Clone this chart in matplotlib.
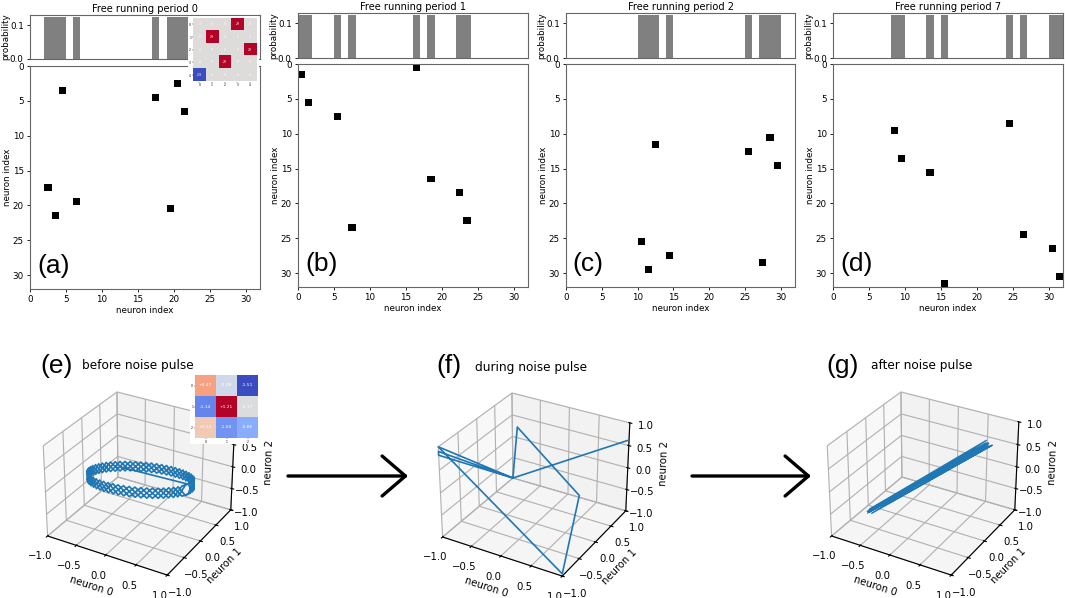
import numpy as np
import matplotlib
matplotlib.use("Agg")
import matplotlib.pyplot as plt
from matplotlib.patches import FancyArrowPatch
from mpl_toolkits.mplot3d import Axes3D  # noqa

W, H = 1065, 598

titles = ["Free running period 0", "Free running period 1", "Free running period 2", "Free running period 7"]
letters = ["(a)", "(b)", "(c)", "(d)"]

cols_a = [2, 3, 4, 6, 17, 19, 20, 21]
rows_a = [17, 21, 3, 19, 4, 20, 2, 6]
cols_b = [0, 1, 5, 7, 16, 18, 22, 23]
rows_b = [1, 5, 7, 23, 0, 16, 18, 22]
cols_c = [10, 11, 12, 14, 25, 27, 28, 29]
rows_c = [25, 29, 11, 27, 12, 28, 10, 14]
cols_d = [8, 9, 13, 15, 24, 26, 30, 31]
rows_d = [9, 13, 15, 31, 8, 24, 26, 30]
prob = 0.125

inset_a = [[0, 0, 0, 29, 0],
           [0, 29, 0, 0, 0],
           [0, 0, 0, 0, 29],
           [0, 0, 29, 0, 0],
           [-29, 0, 0, 0, 0]]
inset_e = [[0.47, -0.28, -1.51],
           [-1.14, 1.21, -0.17],
           [0.13, -1.04, -0.86]]

ring_x = [-.43,
          .78, .763, .713, .631, .522, .39, .241, .082, -.082, -.241, -.39, -.522, -.631, -.713, -.763,
          -.78, -.763, -.713, -.631, -.522, -.39, -.241, -.082, .082, .241, .39, .522, .631, .713, .763,
          .78, .763, .713, .631, .522, .39, .241, .082, -.082, -.241, -.39, -.522, -.631, -.713, -.763,
          -.78, -.763, -.713, -.631, -.522, -.39, -.241, -.082, .082, .241, .39, .522, .631, .713, .763,
          .776, .742, .675, .58, .459, .317, .162, 0, -.162, -.317, -.459, -.58, -.675, -.742, -.776,
          -.776, -.742, -.675, -.58, -.459, -.317, -.162, 0, .162, .317, .459, .58, .675, .742, .776,
          .776, .742, .675, .58, .459, .317, .162, 0, -.162, -.317, -.459, -.58, -.675, -.742, -.776,
          -.776, -.742, -.675, -.58, -.459, -.317, -.162, 0, .162, .317, .459, .58, .675, .742, .776]
ring_y = [.16,
          0, .162, .317, .459, .58, .675, .742, .776, .776, .742, .675, .58, .459, .317, .162,
          0, -.162, -.317, -.459, -.58, -.675, -.742, -.776, -.776, -.742, -.675, -.58, -.459, -.317, -.162,
          0, .162, .317, .459, .58, .675, .742, .776, .776, .742, .675, .58, .459, .317, .162,
          0, -.162, -.317, -.459, -.58, -.675, -.742, -.776, -.776, -.742, -.675, -.58, -.459, -.317, -.162,
          .082, .241, .39, .522, .631, .713, .763, .78, .763, .713, .631, .522, .39, .241, .082,
          -.082, -.241, -.39, -.522, -.631, -.713, -.763, -.78, -.763, -.713, -.631, -.522, -.39, -.241, -.082,
          .082, .241, .39, .522, .631, .713, .763, .78, .763, .713, .631, .522, .39, .241, .082,
          -.082, -.241, -.39, -.522, -.631, -.713, -.763, -.78, -.763, -.713, -.631, -.522, -.39, -.241, -.082]
ring_z = [0,
          .188, -.099, .054, -.231, -.07, -.341, -.163, -.412, -.208, -.431, -.199, -.394, -.137, -.308, -.031,
          -.188, .099, -.054, .231, .07, .341, .163, .412, .208, .431, .199, .394, .137, .308, .031,
          -.032, .121, -.166, -.011, -.29, -.121, -.383, -.192, -.428, -.211, -.419, -.174, -.357, -.088, -.251,
          .032, -.121, .166, .011, .29, .121, .383, .192, .428, .211, .419, .174, .357, .088, .251,
          .155, -.132, .022, -.261, -.096, -.363, -.179, -.422, -.211, -.427, -.188, -.377, -.114, -.28, -.001,
          -.155, .132, -.022, .261, .096, .363, .179, .422, .211, .427, .188, .377, .114, .28, .001,
          -.065, .088, -.198, -.041, -.316, -.143, -.399, -.202, -.431, -.207, -.408, -.157, -.334, -.06, -.221,
          .065, -.088, .198, .041, .316, .143, .399, .202, .431, .207, .408, .157, .334, .06, .221]

pulse_x = [.97, -1, -1, -1, -1, -1, 1, 1, -.91, -1]
pulse_y = [1, 1, -1, -1, 1, -1, -1, -.54, 1, 1]
pulse_z = [.6, -1, .9, .82, -1, 1, -.95, .42, .25, -1]

after_x = [-.6, .68, -.62, .66, -.58, .7, -.6, .64, -.55, .72, -.42, .7, -.6, .68, -.6, .66]
after_y = [-.6, .68, -.6, .64, -.62, .66, -.58, .68, -.6, .72, -.42, .6, -.64, .66, -.6, .7]
after_z = [-.55, .61, -.6, .64, -.5, .57, -.52, .66, -.58, .56, -.46, .62, -.53, .63, -.58, .59]

panel_left = [30, 298, 566, 833]
panel_right = [260, 528, 795, 1063]
top_box = [(15, 59), (13, 58), (13, 58), (13, 58)]
main_box = [(66, 289), (64, 287), (64, 287), (64, 287)]

fig = plt.figure(figsize=(W / 100, H / 100), dpi=100)


def rect(l, t, r, b):
    return [l / W, 1 - b / H, (r - l) / W, (b - t) / H]


fs = 6.3
all_cols = [cols_a, cols_b, cols_c, cols_d]
all_rows = [rows_a, rows_b, rows_c, rows_d]
for i in range(4):
    l = panel_left[i]
    r = panel_right[i]
    t0, b0 = top_box[i]
    t1, b1 = main_box[i]
    at = fig.add_axes(rect(l, t0, r, b0))
    cols = np.array(all_cols[i])
    at.bar(cols + 0.5, [prob] * len(cols), width=1, color="#808080")
    at.set_xlim(0, 32)
    at.set_ylim(0, 0.13)
    at.set_xticks([])
    at.set_yticks([0, 0.1])
    at.set_yticklabels(["0.0", "0.1"])
    at.set_ylabel("probability", fontsize=fs)
    at.yaxis.set_label_coords(-0.087, 0.5)
    at.tick_params(labelsize=fs, length=2.5, width=0.6, pad=2)
    at.set_title(titles[i], fontsize=7.1, pad=2.5)

    am = fig.add_axes(rect(l, t1, r, b1))
    m = np.zeros((32, 32))
    m[all_rows[i], cols] = 1
    am.pcolormesh(np.arange(33), np.arange(33), m, cmap="gray_r", vmin=0, vmax=1)
    am.set_xlim(0, 32)
    am.set_ylim(32, 0)
    am.set_xticks(range(0, 31, 5))
    am.set_yticks(range(0, 31, 5))
    am.set_xlabel("neuron index", fontsize=fs, labelpad=1)
    am.set_ylabel("neuron index", fontsize=fs)
    am.yaxis.set_label_coords(-0.078, 0.5)
    am.tick_params(labelsize=fs, length=2.5, width=0.6, pad=2)
    am.text(0.03, 0.05, letters[i], transform=am.transAxes, fontsize=19,
            family="Liberation Sans", va="bottom", ha="left")
    for a in (at, am):
        for s in a.spines.values():
            s.set_linewidth(0.8)
            s.set_color("#666666")

# inset of panel a
bga = fig.add_axes(rect(188, 16, 258.5, 88))
bga.set_facecolor("white")
bga.set_xticks([])
bga.set_yticks([])
for s in bga.spines.values():
    s.set_visible(False)
ins = fig.add_axes(rect(193, 18, 256.5, 81.5))
ins.imshow(inset_a, cmap="coolwarm", vmin=-29, vmax=29)
for r_, row in enumerate(inset_a):
    for c, v in enumerate(row):
        ins.text(c, r_, str(v), color="white", fontsize=2.2, ha="center", va="center")
ins.set_xticks(range(5))
ins.set_yticks(range(5))
ins.tick_params(labelsize=2.2, length=0.8, width=0.3, pad=0.6)
for s in ins.spines.values():
    s.set_visible(False)

labels3 = [("(e)", "before noise pulse"), ("(f)", "during noise pulse"), ("(g)", "after noise pulse")]
series3 = [(ring_x, ring_y, ring_z), (pulse_x, pulse_y, pulse_z), (after_x, after_y, after_z)]
widths3 = [1.2, 1.2, 1.0]
box3 = [(31.5, 375.5), (426.5, 376.5), (815.5, 375.5)]
size3 = 213
letter_xy = [(40, 373), (436, 373), (826, 373)]
caption_xy = [(82, 366), (475, 367), (871, 366)]
for i in range(3):
    l, t = box3[i]
    ax = fig.add_axes(rect(l, t, l + size3, t + size3), projection="3d")
    ax.patch.set_alpha(0)
    x, y, z = series3[i]
    ax.plot(x, y, z, lw=widths3[i], color="#1f77b4")
    ax.set_xlim(-1, 1)
    ax.set_ylim(-1, 1)
    ax.set_zlim(-1, 1)
    for setter in (ax.set_xticks, ax.set_yticks, ax.set_zticks):
        setter([-1, -.5, 0, .5, 1])
    ax.tick_params(labelsize=7.3, pad=0)
    ax.tick_params(axis="z", pad=-1)
    ax.set_xlabel("neuron 0", fontsize=7.3, labelpad=-5)
    ax.set_ylabel("neuron 1", fontsize=7.3, labelpad=-5)
    ax.set_zlabel("neuron 2", fontsize=7.3, labelpad=-5)
    fig.text(letter_xy[i][0] / W, 1 - letter_xy[i][1] / H, labels3[i][0], fontsize=19,
             family="Liberation Sans", va="baseline", ha="left")
    fig.text(caption_xy[i][0] / W, 1 - caption_xy[i][1] / H, labels3[i][1], fontsize=8.7,
             va="center", ha="left")

# inset of panel e
bg = fig.add_axes(rect(190, 375, 258, 444))
bg.set_facecolor("white")
bg.set_xticks([])
bg.set_yticks([])
for s in bg.spines.values():
    s.set_visible(False)
ine = fig.add_axes(rect(195, 375, 258, 438))
ine.imshow(inset_e, cmap="coolwarm", vmin=-1.51, vmax=1.21)
for r_, row in enumerate(inset_e):
    for c, v in enumerate(row):
        ine.text(c, r_, f"{v:+.2f}", color="white", fontsize=3.2, ha="center", va="center")
ine.set_xticks(range(3))
ine.set_yticks(range(3))
ine.tick_params(labelsize=2.2, length=0.8, width=0.3, pad=0.6)
for s in ine.spines.values():
    s.set_visible(False)

# arrows between the 3D panels
for x0, x1 in [(288, 408), (692, 811)]:
    fig.add_artist(FancyArrowPatch(
        (x0 / W, 1 - 476 / H), (x1 / W, 1 - 476 / H), transform=fig.transFigure,
        arrowstyle="->,head_length=7,head_width=6", mutation_scale=2.4, lw=2.4, color="black",
        shrinkA=0, shrinkB=0))

fig.savefig("out.png", dpi=100)
